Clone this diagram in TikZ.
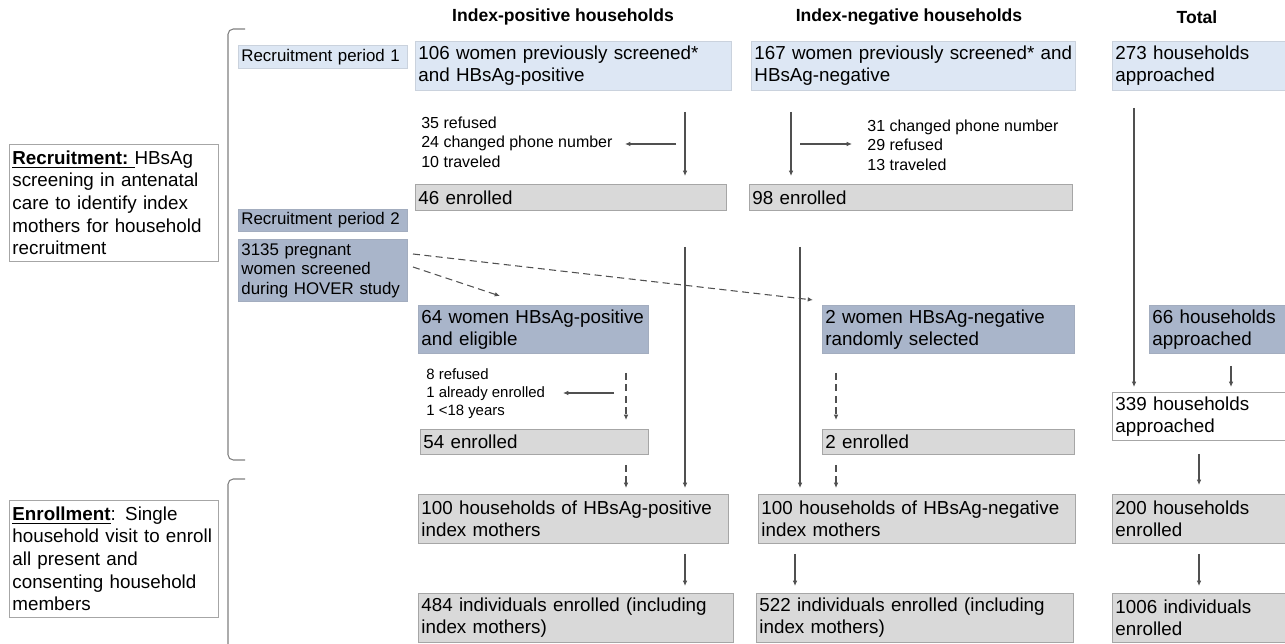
\documentclass[tikz,border=0pt]{standalone}
\usepackage{fontspec}
\setmainfont{Liberation Sans}
\usetikzlibrary{arrows.meta, positioning}

\definecolor{lightblue}{HTML}{DDE7F4}
\definecolor{slateblue}{HTML}{A9B5CA}
\definecolor{boxgray}{HTML}{D9D9D9}
\definecolor{edgegray}{HTML}{A6A6A6}
\definecolor{linegray}{HTML}{505050}

\newcommand{\bigtxt}{\fontsize{10.7pt}{12.7pt}\selectfont}
\newcommand{\smalltxt}{\fontsize{9.1pt}{11.1pt}\selectfont}
\newcommand{\tinytxt}{\fontsize{8.5pt}{10.2pt}\selectfont}

\begin{document}
\begin{tikzpicture}[x=0.02cm, y=-0.02cm, >={Latex[length=3pt,width=2.6pt]},
    box/.style={draw=edgegray, line width=0.5pt, anchor=north west, align=left,
      inner xsep=1.7pt, inner ysep=1pt, font=\bigtxt},
    bw/.style={text width=#1*0.02cm-3.4pt},
    bh/.style={minimum height=#1*0.02cm},
    blue1/.style={box, fill=lightblue, draw=lightblue!80!gray},
    blue2/.style={box, fill=slateblue, draw=slateblue!85!gray},
    gray1/.style={box, fill=boxgray},
    white1/.style={box, fill=white},
    head/.style={font=\bfseries\fontsize{10pt}{12pt}\selectfont},
    excl/.style={anchor=west, align=left, inner sep=0pt, font=\smalltxt},
    flow/.style={->, draw=linegray, line width=0.6pt},
    dflow/.style={flow, dash pattern=on 4pt off 2.5pt},
    bracket/.style={draw=gray, line width=0.6pt, rounded corners=3pt}]

    \useasboundingbox (0,0) rectangle (1285,644);
    \clip (0,0) rectangle (1285,644);
    \fill[white] (0,0) rectangle (1285,644);

    % Column headers
    \node[head] (hpos) at (563,17) {Index-positive households};
    \node[head] (hneg) at (909,17) {Index-negative households};
    \node[head] (htot) at (1197,17) {Total};

    % Phase boxes and brackets
    \node[white1, bw=209, bh=117, font=\fontsize{10.7pt}{12.9pt}\selectfont] (recr) at (9,144)
      {\underline{\textbf{Recruitment:}\ }HBsAg\\screening in antenatal\\care to identify index\\mothers for household\\recruitment};
    \node[white1, bw=209, bh=117, font=\fontsize{10.7pt}{12.9pt}\selectfont] (enrl) at (9,500)
      {\underline{\textbf{Enrollment}}: Single\\household visit to enroll\\all present and\\consenting household\\members};
    \draw[bracket] (245,29) -- (228,29) -- (228,460) -- (245,460);
    \draw[bracket] (245,479) -- (228,479) -- (228,660);

    % Recruitment period 1
    \node[blue1, bw=169, bh=23, font=\fontsize{9.6pt}{11.1pt}\selectfont] (per1) at (238,45) {Recruitment period 1};
    \node[blue1, bw=316, bh=49] (p106) at (415,41) {106 women previously screened*\\and HBsAg-positive};
    \node[blue1, bw=324, bh=49] (n167) at (751,41) {167 women previously screened* and\\HBsAg-negative};
    \node[blue1, bw=180, bh=49] (t273) at (1112,41) {273 households\\approached};
    \node[excl] (pexc) at (421,142) {35 refused\\24 changed phone number\\10 traveled};
    \node[excl] (nexc) at (867,145) {31 changed phone number\\29 refused\\13 traveled};
    \node[gray1, bw=311, bh=26] (p46) at (415,184) {46 enrolled};
    \node[gray1, bw=323, bh=26] (n98) at (749,184) {98 enrolled};

    % Recruitment period 2
    \node[blue2, bw=169, bh=22, font=\fontsize{9.6pt}{11.1pt}\selectfont] (per2) at (238,209) {Recruitment period 2};
    \node[blue2, bw=169, bh=62, font=\fontsize{9.6pt}{11.1pt}\selectfont] (scr) at (238,239)
      {3135 pregnant\\women screened\\during HOVER study};
    \node[blue2, bw=230, bh=48] (p64) at (418,305) {64 women HBsAg-positive\\and eligible};
    \node[blue2, bw=252, bh=48] (n2w) at (822,305) {2 women HBsAg-negative\\randomly selected};
    \node[blue2, bw=141, bh=48] (t66) at (1149,305) {66 households\\approached};
    \node[excl, font=\tinytxt] (p64exc) at (426,394) {8 refused\\1 already enrolled\\1 <18 years};
    \node[white1, bw=180, bh=48] (t339) at (1112,392) {339 households\\approached};
    \node[gray1, bw=228, bh=25] (p54) at (420,429) {54 enrolled};
    \node[gray1, bw=252, bh=25] (n2e) at (822,429) {2 enrolled};

    % Enrollment
    \node[gray1, bw=310, bh=49] (p100) at (418,494) {100 households of HBsAg-positive\\index mothers};
    \node[gray1, bw=317, bh=49] (n100) at (758,494) {100 households of HBsAg-negative\\index mothers};
    \node[gray1, bw=180, bh=49] (t200) at (1112,494) {200 households\\enrolled};
    \node[gray1, bw=315, bh=49] (p484) at (418,593) {484 individuals enrolled (including\\index mothers)};
    \node[gray1, bw=317, bh=49] (n522) at (756,593) {522 individuals enrolled (including\\index mothers)};
    \node[gray1, bw=180, bh=49] (t1006) at (1112,593) {1006 individuals\\enrolled};

    % Arrow end points
    \coordinate (pos1s) at (685,112);   \coordinate (pos1e) at (685,176);
    \coordinate (posx1s) at (676,144);  \coordinate (posx1e) at (625,144);
    \coordinate (neg1s) at (791,112);   \coordinate (neg1e) at (791,176);
    \coordinate (negx1s) at (800,144);  \coordinate (negx1e) at (852,144);
    \coordinate (posls) at (685,247);   \coordinate (posle) at (685,488);
    \coordinate (negls) at (800,247);   \coordinate (negle) at (800,488);
    \coordinate (d1s) at (413,254);     \coordinate (d1e) at (813,300);
    \coordinate (d2s) at (413,267);     \coordinate (d2e) at (500,296);
    \coordinate (pos2s) at (626,373);   \coordinate (pos2e) at (626,420);
    \coordinate (posx2s) at (614,393);  \coordinate (posx2e) at (563,393);
    \coordinate (pos3s) at (626,465);   \coordinate (pos3e) at (626,488);
    \coordinate (neg2s) at (836,373);   \coordinate (neg2e) at (836,420);
    \coordinate (neg3s) at (836,465);   \coordinate (neg3e) at (836,488);
    \coordinate (pos4s) at (685,554);   \coordinate (pos4e) at (685,586);
    \coordinate (neg4s) at (795,554);   \coordinate (neg4e) at (795,586);
    \coordinate (tot1s) at (1134,108);  \coordinate (tot1e) at (1134,387);
    \coordinate (tot2s) at (1231,366);  \coordinate (tot2e) at (1231,387);
    \coordinate (tot3s) at (1199,454);  \coordinate (tot3e) at (1199,485);
    \coordinate (tot4s) at (1199,554);  \coordinate (tot4e) at (1199,586);

    % Solid arrows
    \draw[flow] (pos1s) -- (pos1e);
    \draw[flow] (posx1s) -- (posx1e);
    \draw[flow] (neg1s) -- (neg1e);
    \draw[flow] (negx1s) -- (negx1e);
    \draw[flow] (posls) -- (posle);
    \draw[flow] (negls) -- (negle);
    \draw[flow] (posx2s) -- (posx2e);
    \draw[flow] (pos4s) -- (pos4e);
    \draw[flow] (neg4s) -- (neg4e);
    \draw[flow] (tot1s) -- (tot1e);
    \draw[flow] (tot2s) -- (tot2e);
    \draw[flow] (tot3s) -- (tot3e);
    \draw[flow] (tot4s) -- (tot4e);

    % Dashed arrows
    \draw[dflow] (d1s) -- (d1e);
    \draw[dflow] (d2s) -- (d2e);
    \draw[dflow] (pos2s) -- (pos2e);
    \draw[dflow] (pos3s) -- (pos3e);
    \draw[dflow] (neg2s) -- (neg2e);
    \draw[dflow] (neg3s) -- (neg3e);

\end{tikzpicture}
\end{document}
